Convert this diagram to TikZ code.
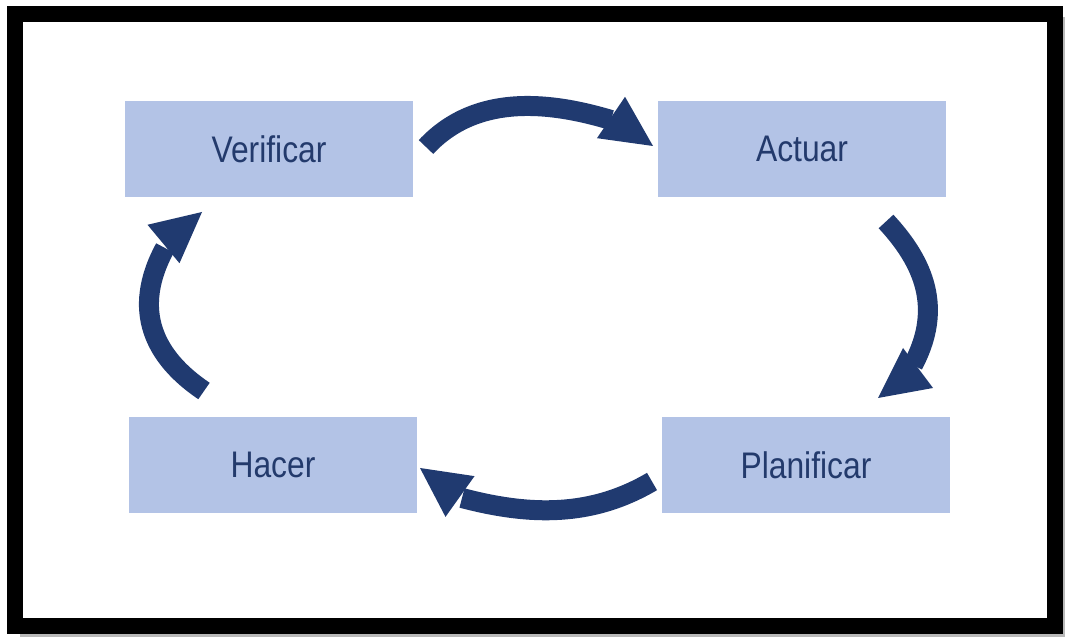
\documentclass[tikz,border=0pt]{standalone}
\usepackage{fontspec}
\newfontfamily\boxfont{Liberation Sans}[FakeStretch=0.86]
\usetikzlibrary{calc}
\definecolor{boxfill}{HTML}{B3C3E6}
\definecolor{boxtext}{HTML}{233A6C}
\definecolor{arrowc}{HTML}{203A70}
\tikzset{
  stagebox/.style={fill=boxfill, draw=none, minimum width=288pt, minimum height=96pt,
    inner sep=0pt, text=boxtext, font=\boxfont\fontsize{37}{40}\selectfont},
  shaft/.style={draw=arrowc, line width=20pt},
  headfill/.style={fill=arrowc}
}
\newcommand{\arrowhead}[2]{%
  \fill[headfill] ($(#1)!25pt!90:(#2)$) -- (#2) -- ($(#1)!25pt!-90:(#2)$) -- cycle;}
\begin{document}
\begin{tikzpicture}[x=1pt,y=1pt]
\useasboundingbox (0,0) rectangle (1065,637);
\fill[white] (0,0) rectangle (1065,637);
% shadow and frame
\draw[gray!55, line width=3pt] (1064,620) -- (1064,1.5) -- (20,1.5);
\draw[black, line width=16pt] (15,11) rectangle (1055,623);
% boxes
\node[stagebox] (verificar) at (269,488) {Verificar};
\node[stagebox] (actuar) at (802,488) {Actuar};
\node[stagebox] (hacer) at (273,172) {Hacer};
\node[stagebox] (planificar) at (806,172) {Planificar};
% arrow tails (t), shaft ends (e), head bases (b) and tips (h)
\coordinate (t1) at (426,490);   \coordinate (e1) at (611,517);
\coordinate (b1) at (611,519.5); \coordinate (h1) at (653,491);
\coordinate (t2) at (886,415.5); \coordinate (e2) at (913,272);
\coordinate (b2) at (918,269);   \coordinate (h2) at (878,239);
\coordinate (t3) at (652,155.5); \coordinate (e3) at (462,139);
\coordinate (b3) at (460,140.5); \coordinate (h3) at (420,169);
\coordinate (t4) at (204,246);   \coordinate (e4) at (165,389);
\coordinate (b4) at (163.5,393); \coordinate (h4) at (202,425);
% shafts
\draw[shaft] (t1) .. controls (477.1,544.9) and (552.6,534.5) .. (e1);
\draw[shaft] (t2) .. controls (930.3,368) and (939.8,322.6) .. (e2);
\draw[shaft] (t3) .. controls (591.7,120) and (530.6,120.9) .. (e3);
\draw[shaft] (t4) .. controls (154.3,279.5) and (131,326.4) .. (e4);
% heads
\arrowhead{b1}{h1}
\arrowhead{b2}{h2}
\arrowhead{b3}{h3}
\arrowhead{b4}{h4}
\end{tikzpicture}
\end{document}
